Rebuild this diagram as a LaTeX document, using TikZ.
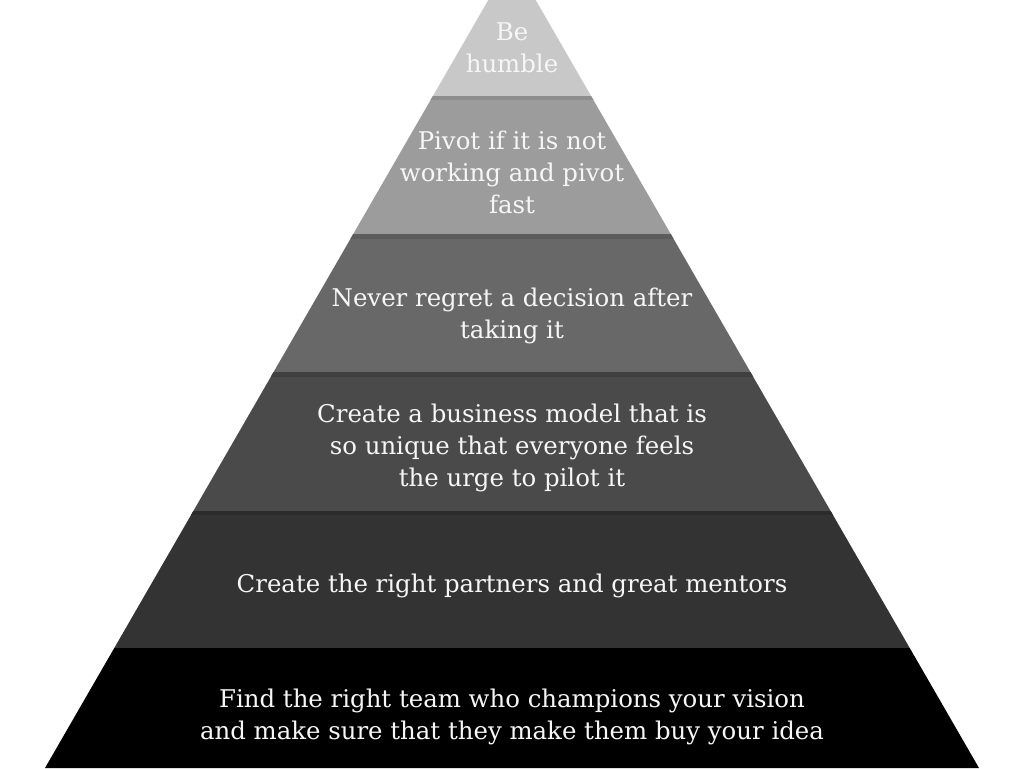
\documentclass[tikz,border=0pt]{standalone}
\usepackage{fontspec}
\setmainfont{DejaVu Serif}
\definecolor{lA}{HTML}{C8C8C8}
\definecolor{lB}{HTML}{9C9C9C}
\definecolor{lBb}{HTML}{8E8E8E}
\definecolor{lC}{HTML}{686868}
\definecolor{lCb}{HTML}{5C5C5C}
\definecolor{lD}{HTML}{4A4A4A}
\definecolor{lDb}{HTML}{404040}
\definecolor{lE}{HTML}{333333}
\definecolor{lEb}{HTML}{2C2C2C}
\definecolor{lF}{HTML}{000000}
\definecolor{txt}{HTML}{F6F6F6}
\tikzset{
  lbl/.style={align=center, text=txt, font=\fontsize{24.4}{32}\selectfont, inner sep=0pt},
}
\begin{document}
\begin{tikzpicture}[x=1pt,y=-1pt]
\useasboundingbox (0,0) rectangle (1024,768);
\fill[white] (0,0) rectangle (1024,768);
\begin{scope}
\clip (512,-41) -- (45,768) -- (979,768) -- cycle;
\fill[lA] (0,-50) rectangle (1024,96);
\fill[lB] (0,96) rectangle (1024,234);
\fill[lBb] (0,96) rectangle (1024,100);
\fill[lC] (0,234) rectangle (1024,372);
\fill[lCb] (0,234) rectangle (1024,239);
\fill[lD] (0,372) rectangle (1024,511);
\fill[lDb] (0,372) rectangle (1024,377);
\fill[lE] (0,511) rectangle (1024,648);
\fill[lEb] (0,511) rectangle (1024,515);
\fill[lF] (0,648) rectangle (1024,770);
\end{scope}
\node[lbl] (t1) at (512,48) {Be\\humble};
\node[lbl] (t2) at (512,172) {Pivot if it is not\\working and pivot\\fast};
\node[lbl] (t3) at (512,316) {Never regret a decision after\\taking it};
\node[lbl] (t4) at (512,448) {Create a business model that is\\so unique that everyone feels\\the urge to pilot it};
\node[lbl] (t5) at (512,586) {Create the right partners and great mentors};
\node[lbl] (t6) at (512,717) {Find the right team who champions your vision\\and make sure that they make them buy your idea};
\end{tikzpicture}
\end{document}
